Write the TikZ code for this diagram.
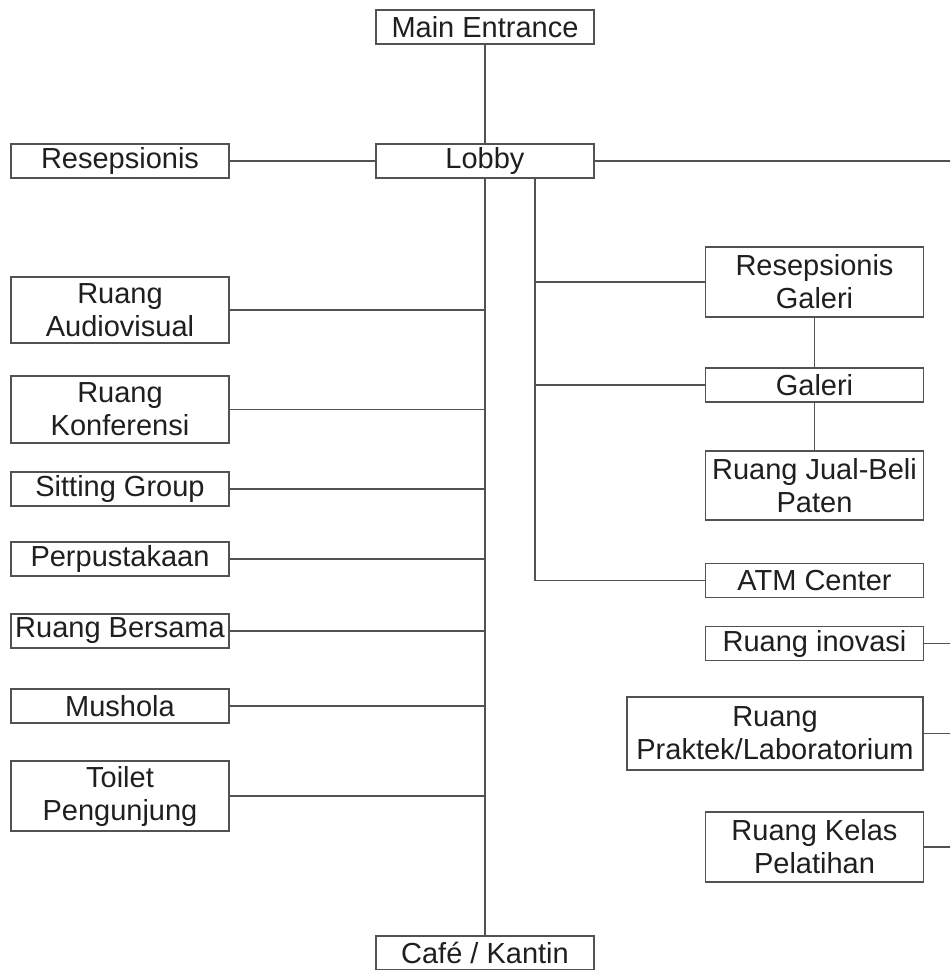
\documentclass[tikz,border=0pt]{standalone}
\usepackage{fontspec}
\setmainfont{Liberation Sans}
\usetikzlibrary{positioning}

\begin{document}
\begin{tikzpicture}[
  x=0.5pt, y=-0.5pt,
  room/.style={draw=black!68, line width=0.75pt, fill=white, text=black!88, align=center, inner sep=0pt, minimum width=109pt, minimum height=17pt, font=\fontsize{14.5}{16.5}\selectfont},
  tworoom/.style={room, minimum height=35pt},
  link/.style={draw=black!68, line width=0.75pt}
]
  \clip (0,0) rectangle (950,970);
  \fill[white] (0,0) rectangle (950,970);

  % middle column
  \node[room] (entrance) at (485,27) {Main Entrance};
  \node[room] (lobby) at (485,161) {Lobby};
  \node[room] (cafe) at (485,953) {Caf\'e / Kantin};

  % left column
  \node[room] (resep) at (120,161) {Resepsionis};
  \node[tworoom, minimum height=33pt] (audio) at (120,310) {Ruang\\Audiovisual};
  \node[tworoom, minimum height=33.5pt] (konf) at (120,409.5) {Ruang\\Konferensi};
  \node[room] (sitting) at (120,489) {Sitting Group};
  \node[room] (perpus) at (120,559) {Perpustakaan};
  \node[room] (bersama) at (120,631) {Ruang Bersama};
  \node[room] (mushola) at (120,706) {Mushola};
  \node[tworoom] (toilet) at (120,796) {Toilet\\Pengunjung};

  % right column
  \node[tworoom] (rgaleri) at (814.5,282) {Resepsionis\\Galeri};
  \node[room] (galeri) at (814.5,385) {Galeri};
  \node[tworoom, minimum height=34.5pt] (jualbeli) at (814.5,485.5) {Ruang Jual-Beli\\Paten};
  \node[room] (atm) at (814.5,580.5) {ATM Center};
  \node[room] (inovasi) at (814.5,643.5) {Ruang inovasi};
  \node[tworoom, minimum width=148pt, minimum height=36.5pt] (praktek) at (775,733.5) {Ruang\\Praktek/Laboratorium};
  \node[tworoom] (kelas) at (814.5,847) {Ruang Kelas\\Pelatihan};

  \coordinate (split) at (535,0);
  \coordinate (edge) at (955,0);

  % connectors
  \draw[link] (entrance) -- (lobby);
  \draw[link] (resep) -- (lobby);
  \draw[link] (lobby) -- (lobby -| edge);
  \draw[link] (lobby) -- (cafe);
  \foreach \r in {audio,konf,sitting,perpus,bersama,mushola,toilet}
    \draw[link] (\r) -- (\r -| lobby);

  \draw[link] (lobby.south -| split) -- (atm -| split) -- (atm);
  \draw[link] (rgaleri -| split) -- (rgaleri);
  \draw[link] (galeri -| split) -- (galeri);
  \draw[link] (rgaleri) -- (galeri);
  \draw[link] (galeri) -- (jualbeli);
  \foreach \r in {inovasi,praktek,kelas}
    \draw[link] (\r) -- (\r -| edge);
\end{tikzpicture}
\end{document}
